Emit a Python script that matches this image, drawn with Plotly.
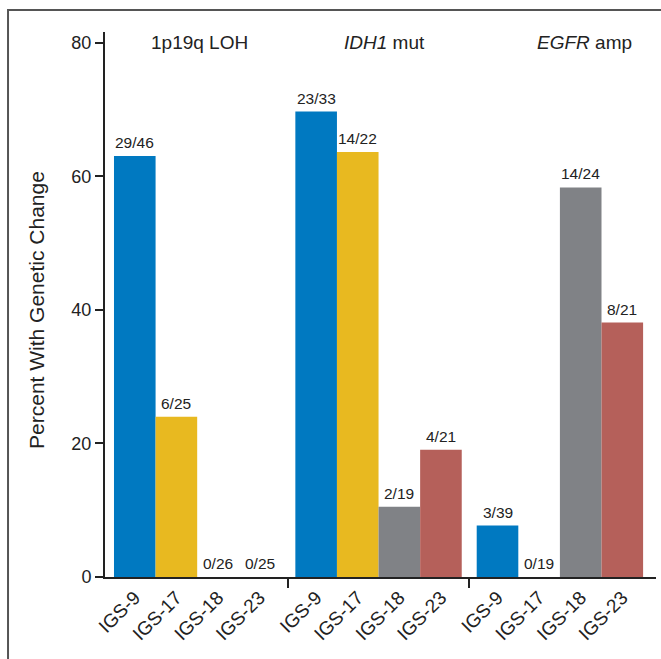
import plotly.graph_objects as go

# Genetic changes per cohort, shown as n / N per alteration
alterations = ["1p19q LOH", "<i>IDH1</i> mut", "<i>EGFR</i> amp"]
cohorts = ["IGS-9", "IGS-17", "IGS-18", "IGS-23"]
colors = ["#0079c1", "#e8b920", "#808286", "#b5605a"]

# counts[cohort][alteration], totals[cohort][alteration]
counts = {
    "IGS-9": [29, 23, 3],
    "IGS-17": [6, 14, 0],
    "IGS-18": [0, 2, 14],
    "IGS-23": [0, 4, 8],
}
totals = {
    "IGS-9": [46, 33, 39],
    "IGS-17": [25, 22, 19],
    "IGS-18": [26, 19, 24],
    "IGS-23": [25, 21, 21],
}

y_ticks = [0, 20, 40, 60, 80]

# layout of the grouped bars along a numeric axis (1 unit = 1 bar width)
LEAD = 0.216
GAP = 0.36
n_c = len(cohorts)


def xpos(g, i):
    return LEAD + g * (n_c + GAP) + i + 0.5


INK = "#222222"
FONT = "Liberation Sans, Arial, sans-serif"

fig = go.Figure()
annotations = []
tick_x, tick_text = [], []
for i, c in enumerate(cohorts):
    xs = [xpos(g, i) for g in range(len(alterations))]
    ys = [100.0 * n / N for n, N in zip(counts[c], totals[c])]
    fig.add_trace(go.Bar(
        x=xs, y=ys, width=1.0, name=c,
        marker=dict(color=colors[i], line=dict(width=0)),
        showlegend=False, hoverinfo="skip",
    ))
    for x, y, n, N in zip(xs, ys, counts[c], totals[c]):
        annotations.append(dict(
            x=x, y=y, xref="x", yref="y", text=f"{n}/{N}",
            showarrow=False, yanchor="bottom", yshift=3,
            font=dict(family=FONT, size=15.5, color=INK),
        ))
for g in range(len(alterations)):
    for i, c in enumerate(cohorts):
        tick_x.append(xpos(g, i))
        tick_text.append(c)

# group separators sit in the middle of the gaps between groups
sep_x = [LEAD + g * (n_c + GAP) - GAP / 2 for g in range(1, len(alterations))]

# alteration headings above each group
head_shift = [0.05, 0.15, 0.58]
for g, name in enumerate(alterations):
    annotations.append(dict(
        x=LEAD + g * (n_c + GAP) + n_c / 2 + head_shift[g], y=80,
        xref="x", yref="y", text=name, showarrow=False,
        xanchor="center", yanchor="middle",
        font=dict(family=FONT, size=19, color=INK),
    ))

annotations.append(dict(
    x=-0.1234, y=0.49, xref="paper", yref="paper",
    text="Percent With Genetic Change", textangle=-90, showarrow=False,
    xanchor="center", yanchor="middle",
    font=dict(family=FONT, size=21, color=INK),
))

x_max = LEAD + len(alterations) * (n_c + GAP) - GAP + 0.31

fig.update_layout(
    width=661, height=659,
    margin=dict(l=105, r=5, t=32, b=82),
    paper_bgcolor="white", plot_bgcolor="white",
    barmode="overlay",
    annotations=annotations,
    xaxis=dict(
        range=[0, x_max], tickvals=tick_x, ticktext=tick_text,
        tickangle=-45, ticks="", showgrid=False, zeroline=False,
        showline=True, linecolor=INK, linewidth=2,
        tickfont=dict(family=FONT, size=19, color=INK),
    ),
    xaxis2=dict(
        range=[0, x_max], overlaying="x", anchor="y", side="bottom",
        tickvals=sep_x, ticks="outside", ticklen=10, tickwidth=1.5,
        tickcolor=INK, showticklabels=False, showgrid=False,
        zeroline=False, showline=False,
    ),
    yaxis=dict(
        range=[0, 81.6], tickvals=y_ticks, ticks="outside", ticklen=8,
        tickwidth=1.5, tickcolor=INK, showgrid=False, zeroline=False,
        showline=True, linecolor=INK, linewidth=2,
        tickfont=dict(family=FONT, size=18, color=INK),
    ),
    shapes=[dict(
        type="path", xref="paper", yref="paper",
        path="M 1.02 1.0404 L -0.176 1.0404 L -0.176 -0.16",
        line=dict(color="#555555", width=2),
    )],
)

# keep the separator axis drawn even though it carries no bars
fig.add_trace(go.Scatter(x=[0], y=[0], xaxis="x2", yaxis="y",
                         mode="markers", marker=dict(opacity=0),
                         showlegend=False, hoverinfo="skip"))

fig.write_html("out.html")
